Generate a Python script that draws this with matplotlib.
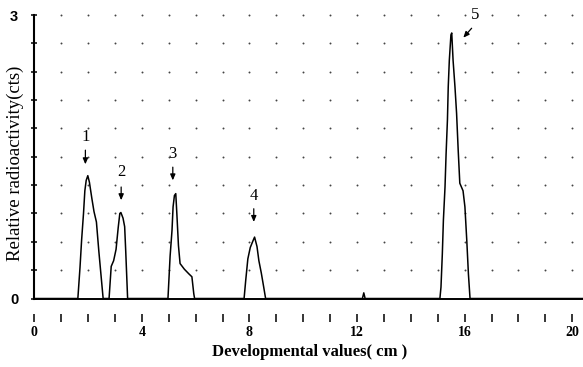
import numpy as np
import matplotlib
matplotlib.use("Agg")
import matplotlib.pyplot as plt

# ---- data ----
trace_x = [0.0,
           1.62, 1.70, 1.76, 1.83, 1.88, 1.93, 1.99, 2.05, 2.14, 2.22, 2.31, 2.40, 2.48, 2.56,
           2.78, 2.86, 2.95, 3.04, 3.12, 3.18, 3.22, 3.30, 3.36, 3.40, 3.47,
           4.97, 5.05, 5.12, 5.16, 5.21, 5.26, 5.30, 5.36, 5.42, 5.58, 5.75, 5.86, 5.93, 5.96,
           7.80, 7.86, 7.94, 8.03, 8.13, 8.19, 8.28, 8.35, 8.44, 8.53, 8.60,
           12.20, 12.25, 12.30,
           15.08, 15.12, 15.17, 15.21, 15.27, 15.31, 15.36, 15.39, 15.43, 15.49, 15.52,
           15.57, 15.64, 15.70, 15.76, 15.82, 15.94, 16.01, 16.08, 16.14, 16.20,
           20.4]
trace_y = [0.0,
           0.0, 0.33, 0.62, 0.90, 1.14, 1.25, 1.30, 1.23, 1.06, 0.92, 0.81, 0.50, 0.25, 0.0,
           0.0, 0.34, 0.40, 0.52, 0.75, 0.90, 0.91, 0.85, 0.76, 0.50, 0.0,
           0.0, 0.45, 0.72, 0.97, 1.09, 1.11, 0.90, 0.56, 0.37, 0.31, 0.26, 0.23, 0.05, 0.0,
           0.0, 0.19, 0.42, 0.54, 0.61, 0.65, 0.55, 0.40, 0.27, 0.12, 0.0,
           0.0, 0.06, 0.0,
           0.0, 0.12, 0.47, 0.83, 1.18, 1.53, 1.89, 2.24, 2.52, 2.79, 2.81,
           2.52, 2.24, 1.96, 1.57, 1.22, 1.14, 0.97, 0.61, 0.26, 0.0,
           0.0]

peak_labels = ["1", "2", "3", "4", "5"]
label_x = [1.90, 3.23, 5.15, 8.16, 16.39]
label_y = [1.71, 1.34, 1.53, 1.09, 3.00]
arrow_tail_x = [1.90, 3.23, 5.15, 8.16, 16.26]
arrow_tail_y = [1.57, 1.18, 1.39, 0.95, 2.86]
arrow_head_x = [1.90, 3.23, 5.15, 8.16, 15.95]
arrow_head_y = [1.42, 1.04, 1.25, 0.81, 2.76]

x_tick_values = [0, 4, 8, 12, 16, 20]
x_tick_labels = ["0", "4", "8", "12", "16", "20"]
y_tick_values = [0, 3]
y_tick_labels = ["0", "3"]

fig = plt.figure(figsize=(5.83, 3.67), dpi=100)
ax = fig.add_axes([0.0588, 0.1866, 0.9412, 0.7725])
ax.set_xlim(0, 20.4)
ax.set_ylim(0, 3)

# dotted grid: one dot per intersection
gx = np.arange(1, 21)
gy = np.arange(1, 11) * 0.3
GX, GY = np.meshgrid(gx, gy)
ax.plot(GX.ravel(), GY.ravel(), linestyle="none", marker="o", markersize=1.4,
        color="#444444", markeredgewidth=0, clip_on=False)

# baseline (x axis line)
ax.axhline(0, color="black", linewidth=1.4, zorder=3, clip_on=False)

# trace
ax.plot(trace_x, trace_y, color="black", linewidth=1.1, zorder=4, clip_on=False)

# annotations
for t, lx, ly, tx, ty, hx, hy in zip(peak_labels, label_x, label_y,
                                      arrow_tail_x, arrow_tail_y,
                                      arrow_head_x, arrow_head_y):
    ax.text(lx, ly, t, ha="center", va="center", fontsize=12,
            family="Liberation Serif", clip_on=False)
    ax.annotate("", xy=(hx, hy), xytext=(tx, ty),
                arrowprops=dict(arrowstyle="-|>,head_length=0.35,head_width=0.15",
                                color="black", lw=0.9, shrinkA=0, shrinkB=0),
                annotation_clip=False)

# spines
for s in ["top", "right"]:
    ax.spines[s].set_visible(False)
ax.spines["left"].set_linewidth(1.5)
ax.spines["bottom"].set_position(("outward", 11.5))
ax.spines["bottom"].set_color("none")

# x ticks (detached below the baseline)
ax.set_xticks(np.arange(0, 21, 1), minor=True)
ax.set_xticks(x_tick_values)
ax.set_xticklabels(x_tick_labels, fontsize=10, fontweight="bold",
                   family="Liberation Serif")
ax.tick_params(axis="x", which="both", direction="out", length=6, width=1.1,
               color="black", pad=2)

# y ticks
ax.set_yticks(np.arange(0, 3.01, 0.3), minor=True)
ax.set_yticks(y_tick_values)
ax.set_yticklabels(y_tick_labels, fontsize=10.5, fontweight="bold",
                   family="Liberation Sans")
ax.tick_params(axis="y", which="both", direction="inout", length=5, width=1.1,
               color="black", pad=9)

fig.text(310 / 583, 1 - 352 / 367, "Developmental values( cm )", ha="center",
         va="center", fontsize=12, fontweight="bold", family="Liberation Serif")
fig.text(15 / 583, 1 - 163 / 367, "Relative radioactivity(cts)", ha="center",
         va="center", rotation=90, fontsize=13.5, family="Liberation Serif")

fig.savefig("out.png", dpi=100)
